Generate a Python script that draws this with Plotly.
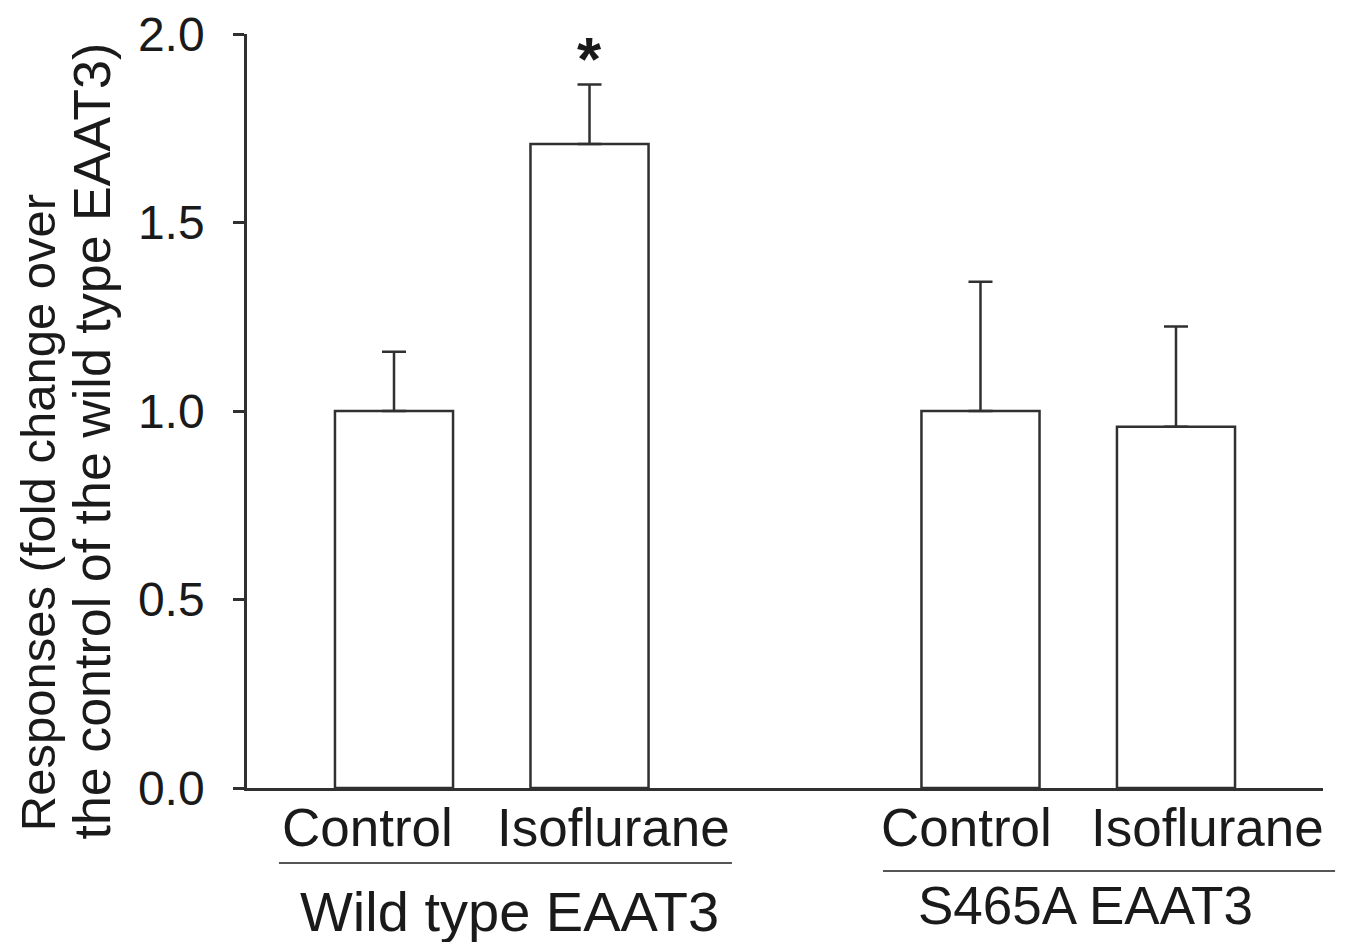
import plotly.graph_objects as go

# Data
positions = [0, 1, 3, 4]
categories = ["Control", "Isoflurane", "Control", "Isoflurane"]
groups = ["Wild type EAAT3", "S465A EAAT3"]
values = [1.0, 1.708, 1.0, 0.958]
errors = [0.157, 0.158, 0.343, 0.266]
y_ticks = [0.0, 0.5, 1.0, 1.5, 2.0]
y_tick_labels = ["0.0", "0.5", "1.0", "1.5", "2.0"]
significance = ["", "*", "", ""]

FONT = "Liberation Sans, Arial, sans-serif"
INK = "#1a1a1a"
LINE = "#303030"

fig = go.Figure()
fig.add_trace(go.Bar(
    x=positions, y=values, width=0.604,
    marker=dict(color="white", line=dict(color=LINE, width=2.5)),
    error_y=dict(type="data", array=errors, arrayminus=[0] * len(errors),
                 symmetric=False, color=LINE, thickness=2.5, width=12),
    showlegend=False, hoverinfo="skip",
))

annotations = []
# category labels
label_shift = [-27, 24, -14, 32]
for p, c, s in zip(positions, categories, label_shift):
    annotations.append(dict(x=p, xref="x", y=-0.053, yref="paper", text=c,
                            showarrow=False, xanchor="center", yanchor="middle",
                            xshift=s, font=dict(family=FONT, size=53, color=INK)))
# group labels
annotations.append(dict(x=0.244, xref="paper", y=-0.164, yref="paper", text=groups[0],
                        showarrow=False, xanchor="center", yanchor="middle",
                        font=dict(family=FONT, size=56, color=INK)))
annotations.append(dict(x=0.7797, xref="paper", y=-0.156, yref="paper", text=groups[1],
                        showarrow=False, xanchor="center", yanchor="middle",
                        font=dict(family=FONT, size=53, color=INK)))
# significance markers
for p, v, e, s in zip(positions, values, errors, significance):
    if s:
        annotations.append(dict(x=p, xref="x", y=v + e, yref="y", text="<b>" + s + "</b>",
                                showarrow=False, xanchor="center", yanchor="middle",
                                yshift=26, font=dict(family=FONT, size=62, color=INK)))
# y title (two lines)
annotations.append(dict(x=-0.1945, xref="paper", y=-0.0597, yref="paper",
                        text="Responses (fold change over", textangle=-90,
                        showarrow=False, xanchor="center", yanchor="bottom",
                        font=dict(family=FONT, size=49, color=INK)))
annotations.append(dict(x=-0.1440, xref="paper", y=-0.0716, yref="paper",
                        text="the control of the wild type EAAT3)", textangle=-90,
                        showarrow=False, xanchor="center", yanchor="bottom",
                        font=dict(family=FONT, size=52, color=INK)))

shapes = [
    dict(type="line", xref="paper", yref="paper", x0=0.0297, x1=0.4507,
         y0=-0.0995, y1=-0.0995, line=dict(color="#555555", width=2)),
    dict(type="line", xref="paper", yref="paper", x0=0.5911, x1=1.0112,
         y0=-0.1101, y1=-0.1101, line=dict(color="#555555", width=2)),
]

# the page body adds an 8px margin, so the figure is 8px smaller
fig.update_layout(
    width=1340, height=934,
    margin=dict(l=239, r=25, t=26, b=154, autoexpand=False),
    paper_bgcolor="white", plot_bgcolor="white",
    annotations=annotations, shapes=shapes,
    xaxis=dict(range=[-0.752, 4.752], showline=True, linecolor=LINE, linewidth=2.5,
               showticklabels=False, ticks="", showgrid=False, zeroline=False,
               fixedrange=True, automargin=False),
    yaxis=dict(range=[0, 2.0], tickvals=y_ticks, ticktext=y_tick_labels,
               showline=True, linecolor=LINE, linewidth=2.5, ticks="outside",
               ticklen=11, tickwidth=2.5, tickcolor=LINE, showgrid=False,
               zeroline=False, fixedrange=True, ticklabelstandoff=19,
               ticklabeloverflow="allow", automargin=False,
               tickfont=dict(family=FONT, size=48, color=INK)),
)

fig.write_html("out.html")
